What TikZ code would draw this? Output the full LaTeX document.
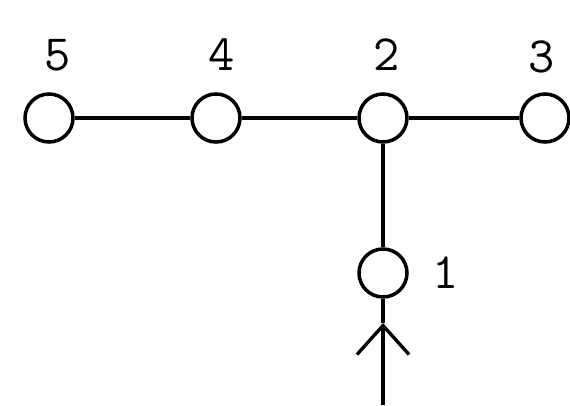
\documentclass[tikz,border=0pt]{standalone}
\usepackage{tikz}
\usetikzlibrary{positioning,arrows.meta}

\begin{document}
\begin{tikzpicture}[
    vertex/.style={circle,draw,line width=2pt,minimum size=0.96cm,inner sep=0pt},
    num/.style={inner sep=0pt,font=\ttfamily\fontsize{29}{33}\selectfont},
    link/.style={line width=1.9pt},
    flow/.style={line width=1.9pt,-{Straight Barb[length=0.58cm,width=1.04cm,line width=1.9pt]}}]
    \useasboundingbox (0,0) rectangle (11.4,8.1);
    \node[vertex] (n5) at (0.98,5.74) {};
    \node[vertex] (n4) at (4.32,5.74) {};
    \node[vertex] (n2) at (7.66,5.74) {};
    \node[vertex] (n3) at (10.9,5.74) {};
    \node[vertex] (n1) at (7.66,2.64) {};
    \node[num,above=0.42cm of n5,xshift=0.18cm] (l5) {5};
    \node[num,above=0.42cm of n4,xshift=0.12cm] (l4) {4};
    \node[num,above=0.42cm of n2,xshift=0.08cm] (l2) {2};
    \node[num,above=0.38cm of n3,xshift=-0.06cm] (l3) {3};
    \node[num,right=0.46cm of n1] (l1) {1};
    \draw[link] (n5) -- (n4);
    \draw[link] (n4) -- (n2);
    \draw[link] (n2) -- (n3);
    \draw[link] (n2) -- (n1);
    % incoming flow
    \coordinate (in) at (7.66,0);
    \coordinate (tip) at (7.66,1.64);
    \draw[flow] (in) -- (tip);
    \draw[link] (tip) -- (n1);
\end{tikzpicture}
\end{document}
